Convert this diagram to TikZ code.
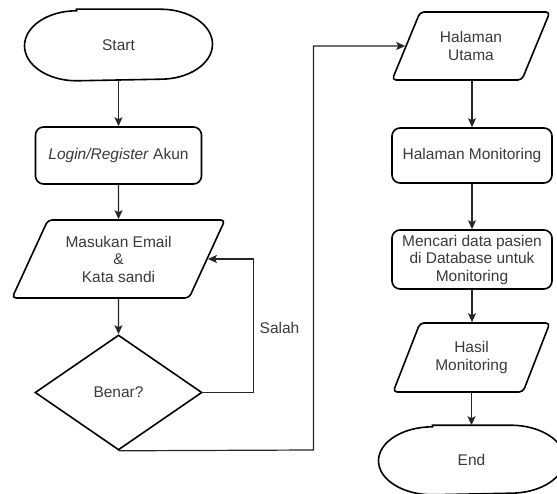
\documentclass[tikz,border=0pt]{standalone}
\usepackage{fontspec}
\setmainfont{Liberation Sans}
\usetikzlibrary{shapes.geometric,arrows.meta}
\definecolor{txt}{HTML}{3A3A3A}
\definecolor{ln}{HTML}{262626}
\tikzset{
  base/.style={draw=black, line width=1.6pt, text=txt, align=center, inner sep=2pt,
    font=\fontsize{15.5}{17.5}\selectfont},
  termtxt/.style={base, draw=none, rectangle},
  outline/.style={draw=black, line width=1.6pt},
  proc/.style={base, rectangle, rounded corners=8pt, minimum width=164pt, minimum height=56pt},
  io/.style={base, trapezium, trapezium left angle=61, trapezium right angle=119,
    trapezium stretches=true, rounded corners=4pt},
  dec/.style={base, diamond, minimum width=167pt, minimum height=115pt, inner sep=0pt},
  conn/.style={draw=ln, line width=1.2pt, -{Stealth[length=9pt,width=8pt,inset=2pt]}},
  lbl/.style={text=txt, font=\fontsize{15.5}{17.5}\selectfont}
}
\begin{document}
\begin{tikzpicture}[x=1pt,y=-1pt]
\clip (0,0) rectangle (557,494);
\fill[white] (0,0) rectangle (557,494);
% left column
\node[termtxt, minimum width=188pt, minimum height=70pt] (start) at (118.5,45) {Start};
\draw[outline] ([xshift=-42pt]start.north) -- ([xshift=42pt]start.north)
  arc[start angle=90, end angle=-90, x radius=52pt, y radius=35pt]
  -- ([xshift=-42pt]start.south)
  arc[start angle=270, end angle=90, x radius=52pt, y radius=35pt] -- cycle;
\node[proc, minimum width=166pt, minimum height=57pt] (login) at (118.5,155.5) {\textit{Login/Register} Akun};
\node[io, minimum width=213pt, minimum height=78pt] (masuk) at (118.5,259) {Masukan Email\\\&\\Kata sandi};
\node[dec] (benar) at (118.5,392.5) {Benar?};
% right column
\node[io, minimum width=158pt, minimum height=68pt] (utama) at (471,46) {Halaman\\Utama};
\node[proc, minimum width=160pt, minimum height=55pt] (monit) at (472,155.5) {Halaman Monitoring};
\node[proc, minimum width=160pt, minimum height=59pt] (cari) at (472,259.5) {Mencari data pasien\\di Database untuk\\Monitoring};
\node[io, minimum width=157pt, minimum height=69pt] (hasil) at (471.5,357.5) {Hasil\\Monitoring};
\node[termtxt, minimum width=186pt, minimum height=68pt] (end) at (471.5,460) {End};
\draw[outline] ([xshift=-39pt]end.north) -- ([xshift=39pt]end.north)
  arc[start angle=90, end angle=-90, x radius=54pt, y radius=34pt]
  -- ([xshift=-39pt]end.south)
  arc[start angle=270, end angle=90, x radius=54pt, y radius=34pt] -- cycle;
% connectors
\draw[conn] (start) -- (login);
\draw[conn] (login) -- (masuk);
\draw[conn] (masuk) -- (benar);
\coordinate (sl) at (253.5,392.5);
\draw[conn] (benar.east) -- (sl) |- (masuk.east);
\node[lbl] (salah) at (279.5,328) {Salah};
\coordinate (yb) at (313.5,450);
\draw[conn] (benar.south) -- (yb) |- (utama.west);
\draw[conn] (utama.south -| monit.north) -- (monit.north);
\draw[conn] (monit) -- (cari);
\draw[conn] (cari.south) -- (cari.south |- hasil.north);
\draw[conn] (hasil.south -| end.north) -- (end.north);
\end{tikzpicture}
\end{document}
